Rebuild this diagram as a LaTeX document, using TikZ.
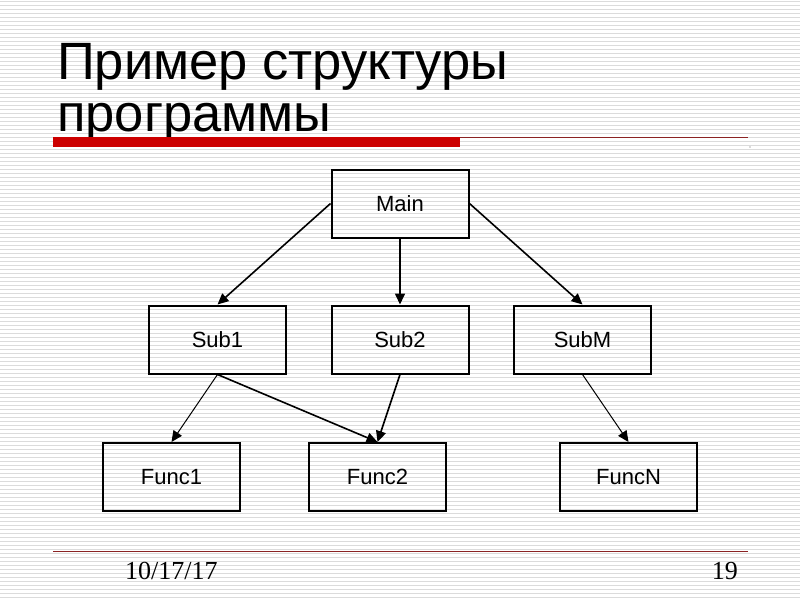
\documentclass[tikz,border=0pt]{standalone}
\usepackage{fontspec}
\setmainfont{Liberation Sans}
\newfontfamily\footfont{Liberation Serif}
\usetikzlibrary{arrows.meta}
\definecolor{barred}{HTML}{CC0000}
\definecolor{linered}{HTML}{8B2323}
\tikzset{
  block/.style={draw, line width=2pt, rectangle, minimum width=137pt,
    minimum height=68pt, inner sep=0pt, font=\fontsize{22}{26}\selectfont},
  call/.style={line width=1.6pt, -{Triangle[length=11pt,width=10pt]}},
  thincall/.style={line width=1pt, -{Triangle[length=11pt,width=10pt]}},
}
\begin{document}
\begin{tikzpicture}[x=1pt, y=-1pt]
	% background
	\fill [white] (0,0) rectangle (800,600);
	\useasboundingbox (0,0) rectangle (800,600);
	\foreach \k in {0,...,149}
		\draw [black!14, line width=1pt] (0,4*\k+1.5) -- (800,4*\k+1.5);
	% title
	\node[anchor=base west, inner sep=0pt, font=\fontsize{52.5}{60}\selectfont] (title1) at (57,79) {Пример структуры};
	\node[anchor=base west, inner sep=0pt, font=\fontsize{52.5}{60}\selectfont] (title2) at (57,131) {программы};
	\fill [barred] (53,137) rectangle (460,147);
	\draw [linered, line width=1pt] (460,137) -- (748,137);
	\fill [black!60] (750,147) circle [radius=0.6];
	% boxes
	\node[block] (main) at (400,203.5) {Main};
	\node[block] (sub1) at (217.5,339.5) {Sub1};
	\node[block] (sub2) at (400,339.5) {Sub2};
	\node[block] (subm) at (582.5,339.5) {SubM};
	\node[block] (func1) at (171.5,477) {Func1};
	\node[block] (func2) at (377.5,477) {Func2};
	\node[block] (funcn) at (628.5,477) {FuncN};
	% arrows
	\draw [call] (main.west) -- (sub1.north);
	\draw [call] (main.south) -- (sub2.north);
	\draw [call] (main.east) -- (subm.north);
	\draw [thincall] (sub1.south) -- (func1.north);
	\draw [call] (sub1.south) -- (func2.north);
	\draw [call] (sub2.south) -- (func2.north);
	\draw [thincall] (subm.south) -- (funcn.north);
	% footer
	\draw [linered, line width=1pt] (53,551) -- (748,551);
	\node[anchor=base west, inner sep=0pt, font=\footfont\fontsize{26}{30}\selectfont] (date) at (125,579) {10/17/17};
	\node[anchor=base east, inner sep=0pt, font=\footfont\fontsize{26}{30}\selectfont] (page) at (738,579) {19};
\end{tikzpicture}
\end{document}
